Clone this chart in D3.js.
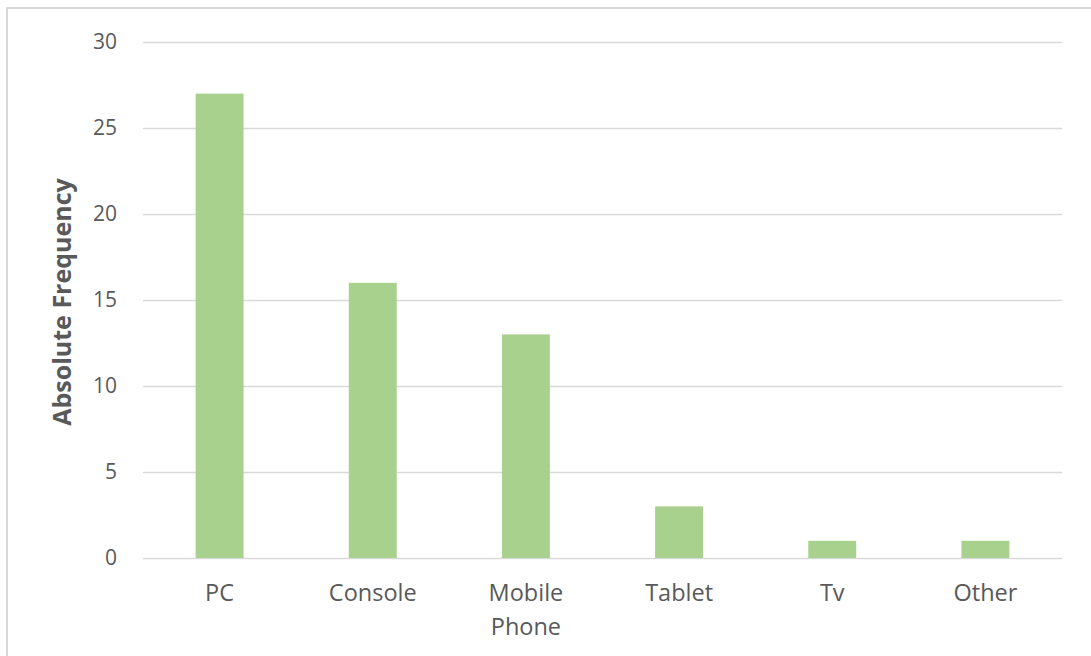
<!DOCTYPE html>
<html>
<head>
<meta charset="utf-8">
<script src="https://cdn.jsdelivr.net/npm/d3@7"></script>
<style>
  html, body { margin: 0; padding: 0; background: #fff; }
  svg { display: block; }
</style>
</head>
<body>
<svg id="chart" width="1091" height="656"></svg>
<script>
const categories = ["PC", "Console", "Mobile\nPhone", "Tablet", "Tv", "Other"];
const values = [27, 16, 13, 3, 1, 1];
const yTicks = [0, 5, 10, 15, 20, 25, 30];
const yTitle = "Absolute Frequency";

const svg = d3.select("#chart");
const font = "'Open Sans', sans-serif";
const textColor = "#595959";

// outer frame
svg.append("rect")
  .attr("x", 7).attr("y", 8)
  .attr("width", 1200).attr("height", 800)
  .attr("fill", "#fff")
  .attr("stroke", "#d9d9d9").attr("stroke-width", 2);

const x = d3.scaleBand()
  .domain(categories)
  .range([143, 1062])
  .paddingInner(0.687)
  .paddingOuter(0.3435);

const y = d3.scaleLinear().domain([0, 30]).range([558, 42]);

// gridlines via axis
const yAxis = d3.axisLeft(y).tickValues(yTicks).tickSize(-(1062 - 143)).tickPadding(26);
const gy = svg.append("g").attr("transform", "translate(143,0)").call(yAxis);
gy.select(".domain").remove();
gy.selectAll(".tick line").attr("stroke", "#d9d9d9").attr("stroke-width", 1.5);
gy.selectAll(".tick text")
  .attr("fill", textColor)
  .style("font-family", font)
  .style("font-size", "21px");

// bars
svg.append("g").selectAll("rect")
  .data(values)
  .join("rect")
  .attr("x", (d, i) => x(categories[i]))
  .attr("width", x.bandwidth())
  .attr("y", d => y(d))
  .attr("height", d => y(0) - y(d))
  .attr("fill", "#a9d18e");

// x labels
const xAxis = d3.axisBottom(x).tickSize(0).tickPadding(0);
const gx = svg.append("g").attr("transform", "translate(0,558)").call(xAxis);
gx.select(".domain").remove();
gx.selectAll(".tick text").each(function(d) {
  const t = d3.select(this);
  t.text(null)
    .attr("y", 0)
    .attr("dy", null)
    .attr("fill", textColor)
    .style("font-family", font)
    .style("font-size", "23.5px");
  d.split("\n").forEach((line, i) => {
    t.append("tspan").attr("x", 0).attr("y", 43 + i * 34).text(line);
  });
});

// y title
svg.append("text")
  .attr("transform", "translate(61,302) rotate(-90)")
  .attr("text-anchor", "middle")
  .attr("dominant-baseline", "central")
  .attr("fill", textColor)
  .style("font-family", font)
  .style("font-weight", "bold")
  .style("font-size", "25px")
  .text(yTitle);
</script>
</body>
</html>
